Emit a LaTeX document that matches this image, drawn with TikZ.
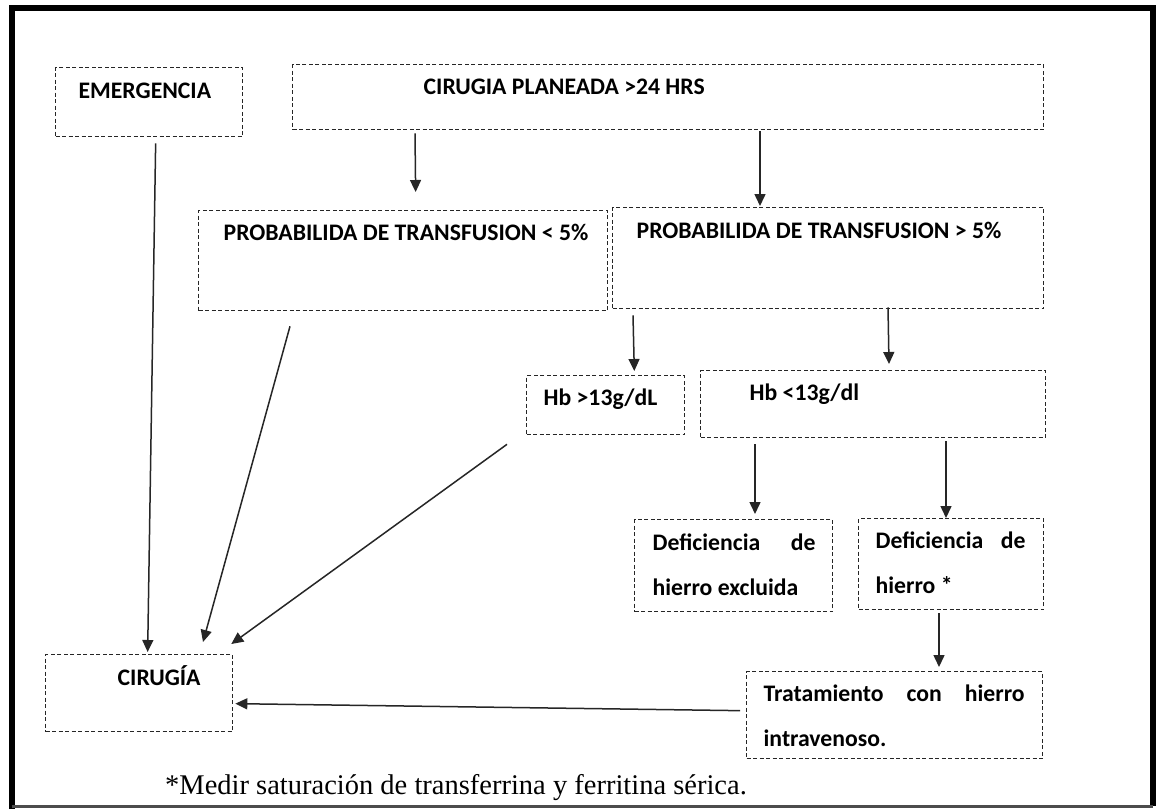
\documentclass[tikz,border=0pt]{standalone}
\usepackage{fontspec}
\setmainfont{Carlito}
\newfontfamily\notafont{Liberation Serif}
\usetikzlibrary{arrows.meta}
\newcommand{\Caja}[5]{\parbox[t][#2pt][t]{#1pt}{\baselineskip=45pt\leftskip=#3pt\rule{0pt}{#4pt}#5\par}}

\begin{document}
\begin{tikzpicture}[x=1pt,y=-1pt,
    caja/.style={draw, black!85, text=black, line width=1.3pt, dash pattern=on 4pt off 2.5pt,
      inner sep=0pt, anchor=north west, font=\fontsize{23.7}{28}\selectfont\bfseries},
    flecha/.style={-{Triangle[width=11pt,length=12pt]}, line width=1.5pt, black!85}]
        \useasboundingbox (0,0) rectangle (1158,809);
        \fill[white] (0,0) rectangle (1158,809);
        % marco
        \draw[line width=6pt] (11.5,809) -- (11.5,8) -- (1153,8) -- (1153,806);
        \draw[line width=2.5pt, black!70] (11.5,806.5) -- (1153,806.5);
        % cajas
        \node[caja] (Emer) at (55,67) {\Caja{187}{69}{23}{31}{EMERGENCIA}};
        \node[caja] (Plan) at (292,64) {\Caja{751}{65}{131}{30}{CIRUGIA PLANEADA >24 HRS}};
        \node[caja] (Menor) at (198,210) {\Caja{409}{100}{25}{30}{PROBABILIDA DE TRANSFUSION < 5\%}};
        \node[caja] (Mayor) at (612,207) {\Caja{431}{101}{24}{31}{PROBABILIDA DE TRANSFUSION > 5\%}};
        \node[caja] (HbAl) at (526,375) {\Caja{158}{59}{17}{30}{Hb >13g/dL}};
        \node[caja] (HbBa) at (700,370) {\Caja{345}{67}{49}{30}{Hb <13g/dl}};
        \node[caja] (DefEx) at (634,519) {\Caja{198}{92}{18}{31}{\makebox[163pt][s]{Deficiencia de}\\hierro excluida}};
        \node[caja] (DefFe) at (858,518) {\Caja{185}{91}{17}{30}{\makebox[150pt][s]{Deficiencia de}\\hierro *}};
        \node[caja] (Trat) at (746,671) {\Caja{296}{87}{17}{30}{\makebox[261pt][s]{Tratamiento con hierro}\\intravenoso.}};
        \node[caja] (Ciru) at (45,654) {\Caja{187}{77}{72}{31}{CIRUGÍA}};
        \node[anchor=base west, inner sep=0pt, font=\notafont\fontsize{28.5}{32}\selectfont] (Nota) at (165,794)
          {*Medir saturación de transferrina y ferritina sérica.};
        % flechas
        \draw[flecha] ([xshift=6.5pt,yshift=-6pt]Emer.south) -- ([xshift=8.5pt,yshift=2pt]Ciru.north);
        \draw[flecha] ([xshift=123pt,yshift=-3pt]Plan.south west) -- ([xshift=12.5pt,yshift=18pt]Menor.north);
        \draw[flecha] ([xshift=468pt,yshift=-1pt]Plan.south west) -- ([xshift=148pt,yshift=1pt]Mayor.north west);
        \draw[flecha] ([xshift=92pt,yshift=-15pt]Menor.south west) -- ([xshift=158pt,yshift=12pt]Ciru.north west);
        \draw[flecha] ([xshift=-19pt,yshift=-9pt]HbAl.south west) -- ([xshift=-2pt,yshift=10pt]Ciru.north east);
        \draw[flecha] ([xshift=21pt,yshift=-6pt]Mayor.south west) -- ([xshift=-51pt,yshift=4pt]HbAl.north east);
        \draw[flecha] ([xshift=276pt,yshift=2pt]Mayor.south west) -- ([xshift=189pt,yshift=6pt]HbBa.north west);
        \draw[flecha] ([xshift=55pt,yshift=-6pt]HbBa.south west) -- ([xshift=121pt,yshift=5pt]DefEx.north west);
        \draw[flecha] ([xshift=246pt,yshift=-3pt]HbBa.south west) -- ([xshift=88pt]DefFe.north west);
        \draw[flecha] ([xshift=81pt,yshift=-3pt]DefFe.south west) -- ([xshift=193pt,yshift=4pt]Trat.north west);
        \draw[flecha] ([xshift=-6pt,yshift=4.5pt]Trat.west) -- ([xshift=2pt,yshift=-10.5pt]Ciru.east);
      \end{tikzpicture}
\end{document}
